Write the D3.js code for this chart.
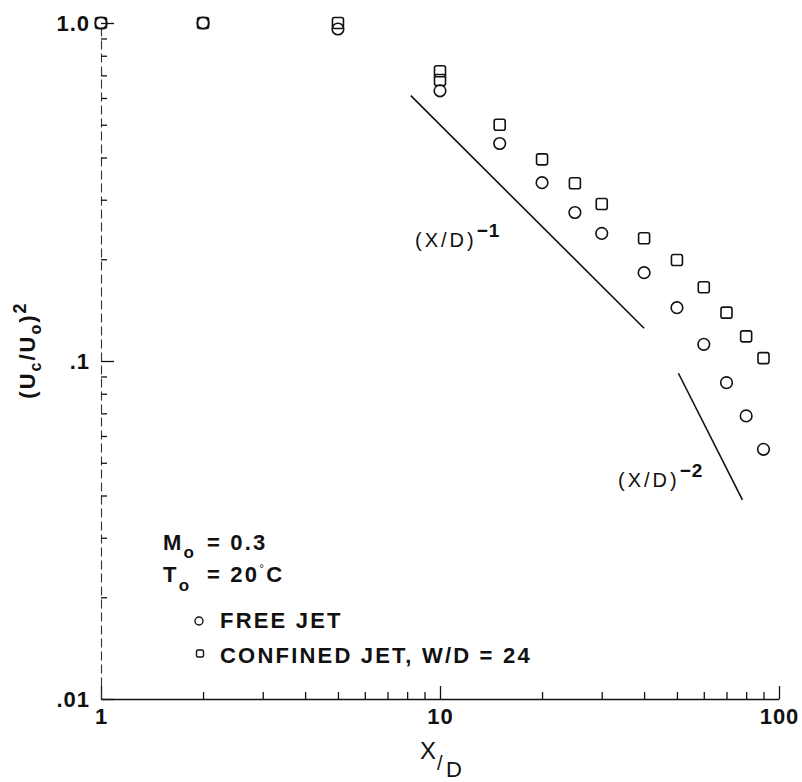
<!DOCTYPE html>
<html>
<head>
<meta charset="utf-8">
<script src="https://cdn.jsdelivr.net/npm/d3@7"></script>
<style>
  html, body { margin: 0; padding: 0; background: #fff; }
  svg { display: block; }
  text { font-family: "Liberation Sans", Arial, Helvetica, sans-serif; fill: #111; }
</style>
</head>
<body>
<svg id="chart" width="802" height="782"></svg>
<script>
// Centreline velocity decay, free jet vs confined jet (log-log)
const freeX = [1, 2, 5, 10, 15, 20, 25, 30, 40, 50, 60, 70, 80, 90];
const freeY = [1.0, 1.0, 0.96, 0.63, 0.44, 0.337, 0.275, 0.2385, 0.1825, 0.1438, 0.112, 0.0863, 0.0688, 0.0548];
const confinedX = [1, 2, 5, 10, 10, 15, 20, 25, 30, 40, 50, 60, 70, 80, 90];
const confinedY = [1.0, 1.0, 1.0, 0.72, 0.678, 0.50, 0.395, 0.3355, 0.2914, 0.2307, 0.1989, 0.1652, 0.139, 0.1183, 0.102];

// Reference slopes (X/D)^-1 and (X/D)^-2, given by their end points
const slope1X = [8.2, 40];
const slope1Y = [0.61, 0.125];
const slope2X = [50.5, 78];
const slope2Y = [0.092, 0.0388];

const xMajor = [1, 10, 100];
const xMajorLabels = ["1", "10", "100"];
const xMinor = [2, 3, 4, 5, 6, 7, 8, 9, 20, 30, 40, 50, 60, 70, 80, 90];
const yMajor = [0.01, 0.1, 1.0];
const yMajorLabels = [".01", ".1", "1.0"];
const yMinor = [0.02, 0.03, 0.04, 0.05, 0.06, 0.07, 0.08, 0.09, 0.2, 0.3, 0.4, 0.5, 0.6, 0.7, 0.8, 0.9];

const svg = d3.select("#chart");
const L = 101, R = 779, T = 23, B = 699;

const x = d3.scaleLog().domain([1, 100]).range([L, R]);
const y = d3.scaleLog().domain([0.01, 1]).range([B, T]);

// ---- axes (ticks point into the plot) ----
const gx = svg.append("g").attr("transform", `translate(0,${B})`);
gx.call(d3.axisBottom(x).tickValues(xMinor).tickSize(-7).tickSizeOuter(0).tickFormat(""));
const gxMaj = svg.append("g").attr("transform", `translate(0,${B})`);
gxMaj.call(d3.axisBottom(x).tickValues(xMajor).tickSize(-13).tickSizeOuter(0).tickPadding(9)
  .tickFormat((d, i) => xMajorLabels[i]));
gxMaj.select(".domain").remove();

const gy = svg.append("g").attr("transform", `translate(${L},0)`);
gy.call(d3.axisLeft(y).tickValues(yMinor).tickSize(-6).tickSizeOuter(0).tickFormat(""));
const gyMaj = svg.append("g").attr("transform", `translate(${L},0)`);
gyMaj.call(d3.axisLeft(y).tickValues(yMajor).tickSize(-13).tickSizeOuter(0).tickPadding(11)
  .tickFormat((d, i) => yMajorLabels[i]));
gyMaj.select(".domain").remove();

svg.selectAll(".tick line").attr("stroke", "#111").attr("stroke-width", 1.3);
gx.select(".domain").attr("stroke", "#111").attr("stroke-width", 1.4);
gy.select(".domain").attr("stroke", "#333").attr("stroke-width", 1.1).attr("stroke-dasharray", "9,4");
svg.selectAll(".tick text")
  .attr("font-size", 22).attr("font-weight", "bold").attr("letter-spacing", 1)
  .attr("font-family", "'Liberation Sans', Arial, sans-serif").attr("fill", "#111");

// ---- axis titles ----
const xt = svg.append("text").attr("font-size", 24);
xt.append("tspan").attr("x", 420).attr("y", 759).text("X");
xt.append("tspan").attr("x", 437).attr("y", 770).attr("font-size", 20).text("/");
xt.append("tspan").attr("x", 446).attr("y", 777).attr("font-size", 22).text("D");

const yt = svg.append("text")
  .attr("transform", "translate(35,350) rotate(-90)")
  .attr("text-anchor", "middle").attr("font-size", 22).attr("font-weight", "bold")
  .attr("letter-spacing", 2);
yt.append("tspan").text("(U");
yt.append("tspan").attr("font-size", 16).attr("dy", 6).text("c");
yt.append("tspan").attr("dy", -6).text("/U");
yt.append("tspan").attr("font-size", 16).attr("dy", 6).text("o");
yt.append("tspan").attr("dy", -6).text(")");
yt.append("tspan").attr("font-size", 18).attr("dy", -9).text("2");

// ---- reference slope lines ----
const line = d3.line().x(d => x(d[0])).y(d => y(d[1]));
svg.append("path").datum(d3.zip(slope1X, slope1Y)).attr("d", line)
  .attr("fill", "none").attr("stroke", "#111").attr("stroke-width", 1.6);
svg.append("path").datum(d3.zip(slope2X, slope2Y)).attr("d", line)
  .attr("fill", "none").attr("stroke", "#111").attr("stroke-width", 1.6);

function slopeLabel(px, py, exp) {
  const t = svg.append("text").attr("x", px).attr("y", py)
    .attr("font-size", 20).attr("letter-spacing", 3);
  t.append("tspan").text("(X/D)");
  t.append("tspan").attr("dy", -10).attr("font-weight", "bold").attr("font-size", 19).attr("letter-spacing", 1).text(exp);
}
slopeLabel(415, 247, "\u22121");
slopeLabel(618, 487, "\u22122");

// ---- data markers ----
svg.append("g").selectAll("circle").data(d3.zip(freeX, freeY)).join("circle")
  .attr("cx", d => x(d[0])).attr("cy", d => y(d[1])).attr("r", 5.8)
  .attr("fill", "none").attr("stroke", "#111").attr("stroke-width", 1.6);

const sq = 11;
svg.append("g").selectAll("rect").data(d3.zip(confinedX, confinedY)).join("rect")
  .attr("x", d => x(d[0]) - sq / 2).attr("y", d => y(d[1]) - sq / 2)
  .attr("width", sq).attr("height", sq).attr("rx", 2)
  .attr("fill", "none").attr("stroke", "#111").attr("stroke-width", 1.6);

// ---- conditions and legend ----
const legend = svg.append("g").attr("font-size", 22).attr("font-weight", "bold").attr("letter-spacing", 2.2);
const m = legend.append("text").attr("x", 163).attr("y", 550);
m.append("tspan").text("M");
m.append("tspan").attr("dy", 8).attr("font-size", 17).text("o");
m.append("tspan").attr("x", 207).attr("dy", -8).text("= 0.3");

const tt = legend.append("text").attr("x", 163).attr("y", 582);
tt.append("tspan").text("T");
tt.append("tspan").attr("dy", 9).attr("font-size", 17).text("o");
tt.append("tspan").attr("x", 207).attr("dy", -9).text("= 20");
tt.append("tspan").attr("dy", -9).attr("font-size", 12).attr("font-weight", "normal").text("\u00B0");
tt.append("tspan").attr("dy", 9).text("C");

legend.append("circle").attr("cx", 199).attr("cy", 621).attr("r", 4)
  .attr("fill", "none").attr("stroke", "#111").attr("stroke-width", 1.4);
legend.append("text").attr("x", 220).attr("y", 628).text("FREE JET");

legend.append("rect").attr("x", 196.5).attr("y", 650).attr("width", 7).attr("height", 7).attr("rx", 1.5)
  .attr("fill", "none").attr("stroke", "#111").attr("stroke-width", 1.4);
legend.append("text").attr("x", 220).attr("y", 663).text("CONFINED JET, W/D = 24");
</script>
</body>
</html>
